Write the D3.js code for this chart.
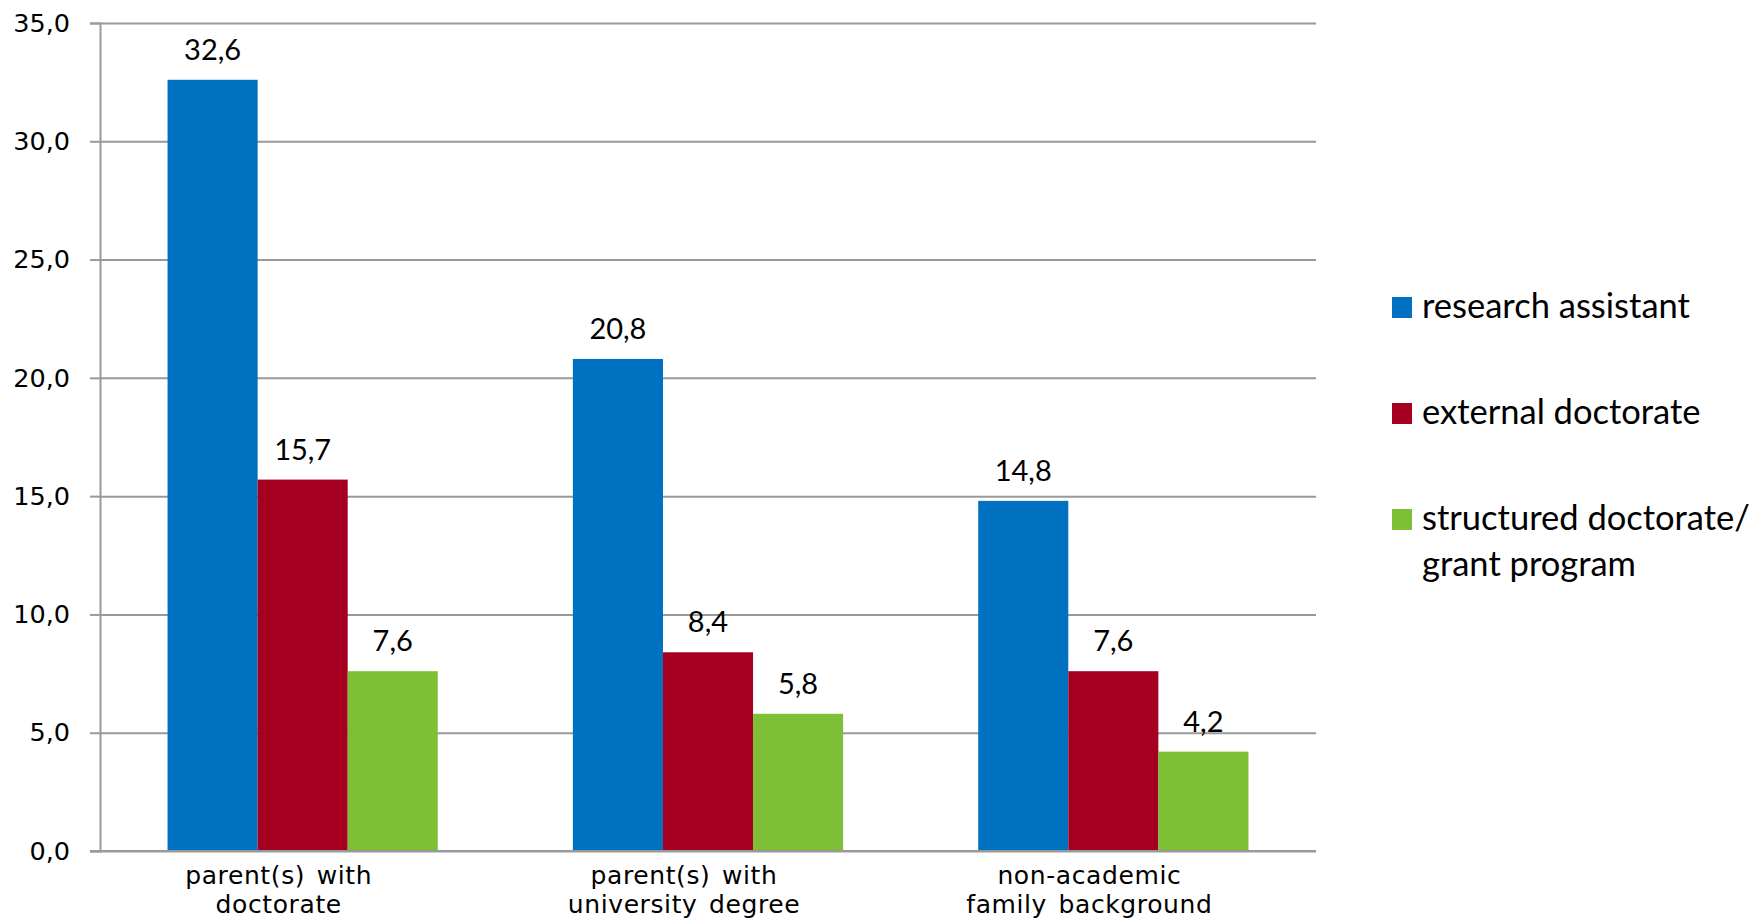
<!DOCTYPE html>
<html>
<head>
<meta charset="utf-8">
<script src="https://cdn.jsdelivr.net/npm/d3@7"></script>
<style>
  body { margin: 0; background: #fff; }
  svg { display: block; }
</style>
</head>
<body>
<svg id="chart"></svg>
<script>
// categories and series values
var categories = [
  ["parent(s) with", "doctorate"],
  ["parent(s) with", "university degree"],
  ["non-academic", "family background"]
];
var seriesNames = ["research assistant", "external doctorate", "structured doctorate/|grant program"];
var researchAssistant = [32.6, 20.8, 14.8];
var externalDoctorate = [15.7, 8.4, 7.6];
var structuredDoctorate = [7.6, 5.8, 4.2];
var yTicks = [0, 5, 10, 15, 20, 25, 30, 35];
var colors = ["#0070C0", "#A50021", "#7DBF35"];

var W = 1762, H = 922;
var margin = {top: 23, right: 446, bottom: 71, left: 100},
    width = W - margin.left - margin.right,
    height = H - margin.top - margin.bottom;

var svg = d3.select("#chart").attr("width", W).attr("height", H);
var g = svg.append("g").attr("transform", "translate(" + margin.left + "," + margin.top + ")");

var de = d3.formatLocale({decimal: ",", thousands: ".", grouping: [3], currency: ["", ""]});
var fmt = de.format(".1f");

var values = [researchAssistant, externalDoctorate, structuredDoctorate];
var rows = categories.map(function(c, i) {
  return {cat: i, vals: values.map(function(v, s) { return {s: s, v: v[i]}; })};
});

var x0 = d3.scaleBand()
    .domain(d3.range(categories.length))
    .range([0, width])
    .paddingInner(1 / 3)
    .paddingOuter(1 / 6);

var x1 = d3.scaleBand()
    .domain(d3.range(seriesNames.length))
    .range([0, x0.bandwidth()]);

var y = d3.scaleLinear()
    .domain([0, 35])
    .range([height, 0]);

// gridlines
g.append("g")
    .attr("class", "grid")
    .call(d3.axisLeft(y).tickValues(yTicks).tickSize(-width).tickFormat(""))
    .call(function(a) {
      a.select(".domain").remove();
      a.selectAll("line").attr("stroke", "#999").attr("stroke-width", 2);
    });

// y axis
g.append("g")
    .call(d3.axisLeft(y).tickValues(yTicks).tickSize(10).tickPadding(20).tickFormat(fmt))
    .call(function(a) {
      a.select(".domain").attr("stroke", "#999").attr("stroke-width", 2);
      a.selectAll("line").attr("stroke", "#999").attr("stroke-width", 2);
      a.selectAll("text")
        .attr("fill", "#000")
        .style("font-family", "'DejaVu Sans', Verdana, sans-serif")
        .style("font-size", "25.5px");
    });

// bars
var groups = g.selectAll(".grp")
    .data(rows)
  .enter().append("g")
    .attr("class", "grp")
    .attr("transform", function(d) { return "translate(" + x0(d.cat) + ",0)"; });

groups.selectAll("rect")
    .data(function(d) { return d.vals; })
  .enter().append("rect")
    .attr("x", function(d) { return x1(d.s); })
    .attr("width", x1.bandwidth())
    .attr("y", function(d) { return y(d.v); })
    .attr("height", function(d) { return height - y(d.v); })
    .attr("fill", function(d) { return colors[d.s]; });

groups.selectAll("text.val")
    .data(function(d) { return d.vals; })
  .enter().append("text")
    .attr("class", "val")
    .attr("x", function(d) { return x1(d.s) + x1.bandwidth() / 2; })
    .attr("y", function(d) { return y(d.v) - 20; })
    .attr("text-anchor", "middle")
    .style("font-family", "Lato, 'Open Sans', sans-serif")
    .style("font-size", "29px")
    .text(function(d) { return fmt(d.v); });

// x axis baseline
g.append("line")
    .attr("x1", -10).attr("x2", width)
    .attr("y1", height).attr("y2", height)
    .attr("stroke", "#999").attr("stroke-width", 2);

// category labels
var catLabels = g.selectAll(".cat")
    .data(categories)
  .enter().append("text")
    .attr("class", "cat")
    .attr("text-anchor", "middle")
    .attr("transform", function(d, i) {
      return "translate(" + (x0(i) + x0.bandwidth() / 2 - 24) + "," + (height + 33) + ")";
    })
    .style("font-family", "'DejaVu Sans', Verdana, sans-serif")
    .style("font-size", "25px")
    .style("letter-spacing", "0.6px")
    .style("word-spacing", "3px");

catLabels.selectAll("tspan")
    .data(function(d) { return d; })
  .enter().append("tspan")
    .attr("x", 0)
    .attr("dy", function(d, i) { return i === 0 ? 0 : 29; })
    .text(function(d) { return d; });

// legend
var legend = svg.append("g")
    .attr("transform", "translate(1392,297)");

var items = legend.selectAll(".item")
    .data(seriesNames)
  .enter().append("g")
    .attr("class", "item")
    .attr("transform", function(d, i) { return "translate(0," + (i * 106) + ")"; });

items.append("rect")
    .attr("width", 20)
    .attr("height", 21)
    .attr("fill", function(d, i) { return colors[i]; });

items.append("text")
    .attr("x", 30)
    .attr("y", 21)
    .style("font-family", "Lato, 'Open Sans', sans-serif")
    .style("font-size", "34.5px")
    .selectAll("tspan")
    .data(function(d) { return d.split("|"); })
  .enter().append("tspan")
    .attr("x", 30)
    .attr("dy", function(d, i) { return i === 0 ? 0 : 46; })
    .text(function(d) { return d; });
</script>
</body>
</html>
